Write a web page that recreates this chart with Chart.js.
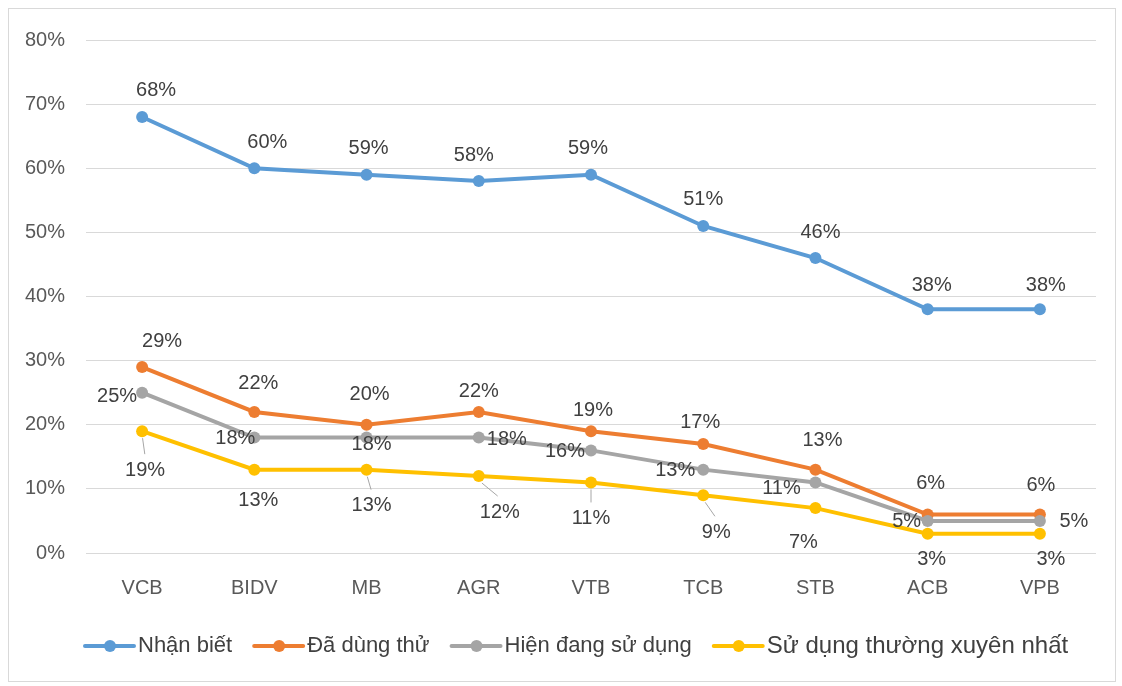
<!DOCTYPE html>
<html>
<head>
<meta charset="utf-8">
<script src="https://cdn.jsdelivr.net/npm/chart.js@4/dist/chart.umd.min.js"></script>
<style>
  html, body { margin: 0; padding: 0; background: #fff; }
</style>
</head>
<body>
<canvas id="myChart" width="1122" height="686"></canvas>
<script>
// ngân hàng
const nganHang = ["VCB", "BIDV", "MB", "AGR", "VTB", "TCB", "STB", "ACB", "VPB"]

// tỷ lệ (%) theo từng mức độ
const nhanBiet = [68, 60, 59, 58, 59, 51, 46, 38, 38]
const daDungThu = [29, 22, 20, 22, 19, 17, 13, 6, 6]
const dangSuDung = [25, 18, 18, 18, 16, 13, 11, 5, 5]
const thuongXuyen = [19, 13, 13, 12, 11, 9, 7, 3, 3]

const tickY = [0, 10, 20, 30, 40, 50, 60, 70, 80]

// vị trí nhãn so với điểm (dx, dy) - chỉnh tay cho khỏi đè nhau
const viTriNhan = {
  blue:   [[14,-26],[13,-26],[2,-26],[-5,-26],[-3,-26],[0,-26],[5,-26],[4,-24],[6,-24]],
  orange: [[20,-26],[4,-28],[3,-30],[0,-20],[2,-21],[-3,-22],[7,-29],[3,-31],[1,-29]],
  gray:   [[-25,4],[-19,1],[5,7],[28,2],[-26,1],[-28,1],[-34,6],[-21,1],[34,1]],
  yellow: [[3,39],[4,31],[5,36],[21,36],[0,36],[13,37],[-12,34],[4,26],[11,26]]
}
// các điểm vàng có đường dẫn tới nhãn
const coDuongDan = [true, false, true, true, true, true, false, false, false]

const FONT = "'Liberation Sans', Arial, sans-serif"

// nhãn dữ liệu
const nhanDuLieu = {
  id: "nhanDuLieu",
  afterDatasetsDraw(chart) {
    const ctx = chart.ctx
    ctx.save()
    ctx.font = "20px " + FONT
    ctx.fillStyle = "#404040"
    ctx.textAlign = "center"
    ctx.textBaseline = "middle"
    chart.data.datasets.forEach((ds, di) => {
      const meta = chart.getDatasetMeta(di)
      meta.data.forEach((pt, i) => {
        const off = ds.viTri[i]
        const lx = pt.x + off[0]
        const ly = pt.y + off[1]
        if (ds.duongDan && ds.duongDan[i]) {
          ctx.strokeStyle = "#a6a6a6"
          ctx.lineWidth = 1
          ctx.beginPath()
          ctx.moveTo(pt.x + off[0] * 0.15, pt.y + 7)
          ctx.lineTo(pt.x + off[0] * 0.9, ly - 16)
          ctx.stroke()
        }
        ctx.fillText(ds.data[i] + "%", lx, ly)
      })
    })
    ctx.restore()
  }
}

// khung + chú thích vẽ tay
const khungVaChuThich = {
  id: "khungVaChuThich",
  beforeDraw(chart) {
    const ctx = chart.ctx
    ctx.save()
    ctx.strokeStyle = "#d9d9d9"
    ctx.lineWidth = 1
    ctx.strokeRect(8.5, 8.5, 1107, 673)
    ctx.restore()
  },
  afterDraw(chart) {
    const ctx = chart.ctx
    ctx.save()
    let x = 83
    const y = 646
    chart.data.datasets.forEach((ds, di) => {
      const c = ds.borderColor
      ctx.strokeStyle = c
      ctx.lineWidth = 4
      ctx.lineCap = "round"
      ctx.beginPath()
      ctx.moveTo(x + 2, y)
      ctx.lineTo(x + 51, y)
      ctx.stroke()
      ctx.fillStyle = c
      ctx.beginPath()
      ctx.arc(x + 27, y, 6, 0, Math.PI * 2)
      ctx.fill()
      ctx.font = (di == 3 ? "24px " : "22px ") + FONT
      ctx.fillStyle = "#404040"
      ctx.textAlign = "left"
      ctx.textBaseline = "middle"
      ctx.fillText(ds.label, x + 55, y)
      x += 55 + ctx.measureText(ds.label).width + 20
    })
    ctx.restore()
  }
}

function dataset(label, data, color, viTri, order) {
  return {
    label: label,
    data: data,
    borderColor: color,
    backgroundColor: color,
    borderWidth: 4,
    pointRadius: 6,
    pointBorderWidth: 0,
    pointBackgroundColor: color,
    tension: 0,
    viTri: viTri,
    order: order
  }
}

const dsVang = dataset("Sử dụng thường xuyên nhất", thuongXuyen, "#FFC000", viTriNhan.yellow, 0)
dsVang.duongDan = coDuongDan

const bieuDo = new Chart("myChart", {
  type: "line",
  data: {
    labels: nganHang,
    datasets: [
      dataset("Nhận biết", nhanBiet, "#5B9BD5", viTriNhan.blue, 3),
      dataset("Đã dùng thử", daDungThu, "#ED7D31", viTriNhan.orange, 2),
      dataset("Hiện đang sử dụng", dangSuDung, "#A5A5A5", viTriNhan.gray, 1),
      dsVang
    ]
  },
  options: {
    responsive: false,
    animation: false,
    layout: { padding: { top: 40, right: 26, bottom: 0, left: 0 } },
    plugins: {
      legend: { display: false },
      tooltip: { enabled: false }
    },
    scales: {
      x: {
        offset: true,
        grid: { display: false, drawTicks: false },
        border: { display: false },
        ticks: { color: "#595959", font: { family: FONT, size: 20 }, padding: 23 },
        afterFit(scale) { scale.height = 133 }
      },
      y: {
        min: 0,
        max: 80,
        afterBuildTicks(scale) { scale.ticks = tickY.map(v => ({ value: v })) },
        grid: { color: "#d9d9d9", lineWidth: 1, drawTicks: false },
        border: { display: false },
        ticks: {
          color: "#595959",
          font: { family: FONT, size: 20 },
          padding: 21,
          callback: v => v + "%"
        },
        afterFit(scale) { scale.width = 86 }
      }
    }
  },
  plugins: [khungVaChuThich, nhanDuLieu]
})
</script>
</body>
</html>
